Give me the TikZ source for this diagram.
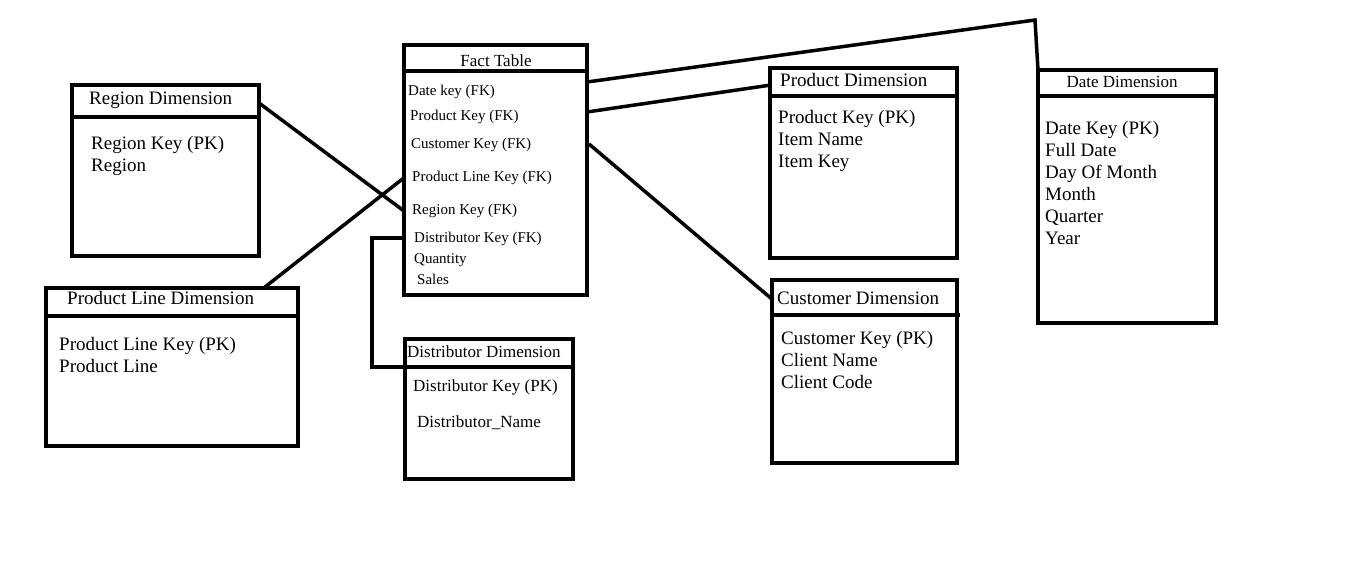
\documentclass[tikz,border=0pt]{standalone}
\usepackage{fontspec}
\setmainfont{Liberation Serif}
\tikzset{
  tbl/.style={draw=black, line width=4pt, rectangle, anchor=north west, inner sep=0pt, outer sep=0pt, fill=white},
  sep/.style={line width=3.5pt},
  conn/.style={line width=3.5pt, line join=miter},
  rowA/.style={anchor=west, inner sep=0pt, text height=14pt, text depth=4pt, font=\fontsize{19}{22}\selectfont},
  rowF/.style={anchor=west, inner sep=0pt, text height=11pt, text depth=3pt, font=\fontsize{15}{18}\selectfont},
  rowD/.style={anchor=west, inner sep=0pt, text height=12.5pt, text depth=3.5pt, font=\fontsize{17}{20}\selectfont},
}
\begin{document}
\begin{tikzpicture}[x=1pt,y=-1pt]
\useasboundingbox[fill=white] (0,0) rectangle (1348,565);

% ---------- connector end points ----------
\coordinate (fDate) at (587,82);
\coordinate (bend) at (1035,20);
\coordinate (dDate) at (1038,70);
\coordinate (fProd) at (587,112);
\coordinate (dProd) at (771,85);
\coordinate (fCust) at (589,144);
\coordinate (dCust) at (773,300);
\coordinate (dReg) at (259,103);
\coordinate (fReg) at (404,211);
\coordinate (dPL) at (265,287);
\coordinate (fPL) at (405,177);
\coordinate (fDist) at (404,238);
\coordinate (c1) at (372,238);
\coordinate (c2) at (372,367);
\coordinate (dDist) at (404,367);

% ---------- tables ----------
\node[tbl, minimum width=183, minimum height=250] (fact) at (404,45) {};
\draw[sep] (404,71) -- (587,71);
\node[font=\fontsize{17}{20}\selectfont, inner sep=0pt] (factT) at (496,61) {Fact Table};
\node[rowF] (f1) at (408,91) {Date key (FK)};
\node[rowF] (f2) at (410,116) {Product Key (FK)};
\node[rowF] (f3) at (411,144) {Customer Key (FK)};
\node[rowF] (f4) at (412,177) {Product Line Key (FK)};
\node[rowF] (f5) at (412,210) {Region Key (FK)};
\node[rowF] (f6) at (414,238) {Distributor Key (FK)};
\node[rowF] (f7) at (414,259) {Quantity};
\node[rowF] (f8) at (417,280) {Sales};

\node[tbl, minimum width=187, minimum height=171] (reg) at (72,85) {};
\draw[sep] (72,117) -- (259,117);
\node[rowA] (regT) at (89,99) {Region Dimension};
\node[rowA] (r1) at (91,144) {Region Key (PK)};
\node[rowA] (r2) at (91,166) {Region};

\node[tbl, minimum width=252, minimum height=158] (pl) at (46,288) {};
\draw[sep] (46,316) -- (298,316);
\node[rowA] (plT) at (67,299) {Product Line Dimension};
\node[rowA] (p1) at (59,345) {Product Line Key (PK)};
\node[rowA] (p2) at (59,367) {Product Line};

\node[tbl, minimum width=168, minimum height=140] (dist) at (405,339) {};
\draw[sep] (405,367) -- (573,367);
\node[rowD] (distT) at (407,353) {Distributor Dimension};
\node[rowD] (d1) at (413,387) {Distributor Key (PK)};
\node[rowD] (d2) at (417,423) {Distributor\_Name};

\node[tbl, minimum width=187, minimum height=190] (prod) at (770,68) {};
\draw[sep] (770,96) -- (957,96);
\node[rowA] (prodT) at (780,81) {Product Dimension};
\node[rowA] (pr1) at (778,118) {Product Key (PK)};
\node[rowA] (pr2) at (778,140) {Item Name};
\node[rowA] (pr3) at (778,162) {Item Key};

\node[tbl, minimum width=185, minimum height=183] (cust) at (772,280) {};
\draw[sep] (772,315) -- (960,315);
\node[rowA] (custT) at (777,299) {Customer Dimension};
\node[rowA] (cu1) at (781,339) {Customer Key (PK)};
\node[rowA] (cu2) at (781,361) {Client Name};
\node[rowA] (cu3) at (781,383) {Client Code};

\node[tbl, minimum width=178, minimum height=253] (date) at (1038,70) {};
\draw[sep] (1038,96) -- (1216,96);
\node[font=\fontsize{17}{20}\selectfont, inner sep=0pt] (dateT) at (1122,82) {Date Dimension};
\node[rowA] (dt1) at (1045,129) {Date Key (PK)};
\node[rowA] (dt2) at (1045,151) {Full Date};
\node[rowA] (dt3) at (1045,173) {Day Of Month};
\node[rowA] (dt4) at (1045,195) {Month};
\node[rowA] (dt5) at (1045,217) {Quarter};
\node[rowA] (dt6) at (1045,239) {Year};

% ---------- connector lines ----------
\draw[conn] (fDate) -- (bend) -- (dDate);
\draw[conn] (fProd) -- (dProd);
\draw[conn] (fCust) -- (dCust);
\draw[conn] (dReg) -- (fReg);
\draw[conn] (dPL) -- (fPL);
\draw[conn] (fDist) -- (c1) -- (c2) -- (dDist);
\end{tikzpicture}
\end{document}
